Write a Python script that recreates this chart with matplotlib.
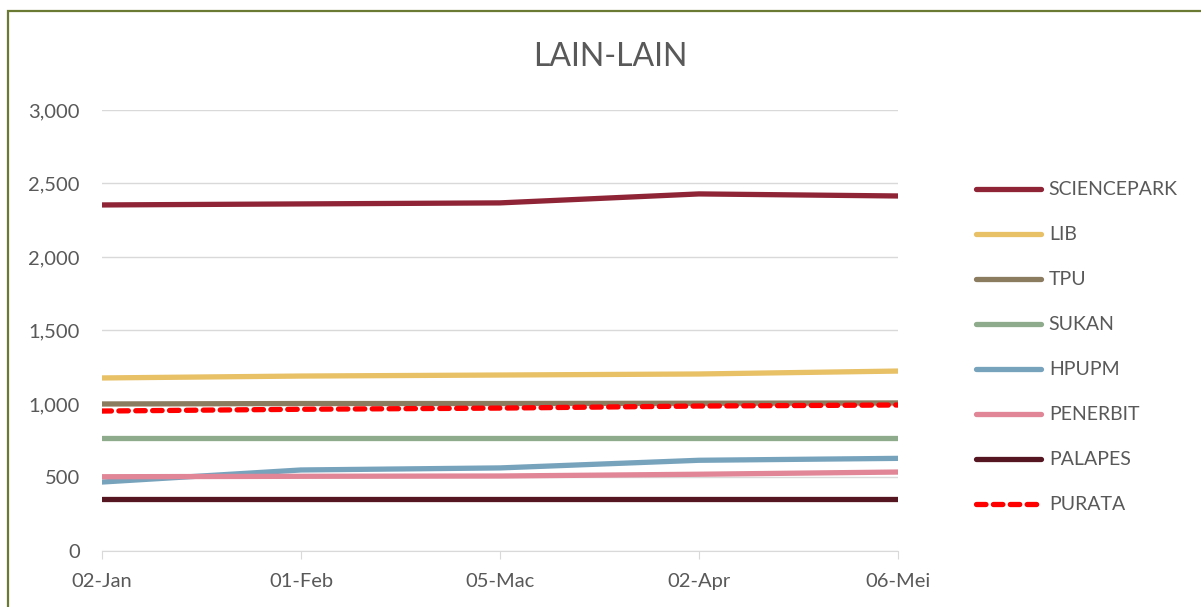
import matplotlib.pyplot as plt
from matplotlib.patches import Rectangle

plt.rcParams['font.family'] = ['Lato', 'DejaVu Sans']

tarikh = ['02-Jan', '01-Feb', '05-Mac', '02-Apr', '06-Mei']
sciencepark = [2354, 2361, 2368, 2429, 2415]
lib = [1177, 1190, 1197, 1204, 1224]
tpu = [1000, 1003, 1003, 1005, 1007]
sukan = [769, 769, 769, 769, 769]
hpupm = [469, 551, 565, 617, 630]
penerbit = [505, 508, 510, 522, 537]
palapes = [354, 354, 354, 354, 354]
purata = [952, 964, 972, 986, 993]

siri = [
    ('SCIENCEPARK', sciencepark, '#8e2436', '-'),
    ('LIB', lib, '#e8c066', '-'),
    ('TPU', tpu, '#8b7b5f', '-'),
    ('SUKAN', sukan, '#8eac8c', '-'),
    ('HPUPM', hpupm, '#77a3bd', '-'),
    ('PENERBIT', penerbit, '#e08696', '-'),
    ('PALAPES', palapes, '#561621', '-'),
    ('PURATA', purata, '#ff0000', '--'),
]

fig = plt.figure(figsize=(12.01, 6.07), dpi=100)
ax = fig.add_axes([0.0849, 0.0923, 0.6628, 0.7265])

x = list(range(len(tarikh)))
for nama, nilai, warna, gaya in siri:
    ax.plot(x, nilai, color=warna, lw=3.8, ls=gaya, label=nama,
            solid_capstyle='round', dash_capstyle='round',
            dashes=(1.8, 1.4) if gaya == '--' else (None, None))

ax.set_xlim(0, 4)
ax.set_ylim(0, 3000)
ax.set_yticks(range(0, 3001, 500))
ax.set_yticklabels(['0', '500', '1,000', '1,500', '2,000', '2,500', '3,000'])
ax.set_xticks(x)
ax.set_xticklabels(tarikh)
ax.grid(axis='y', color='#d9d9d9', lw=1)
ax.set_axisbelow(True)
for s in ['top', 'right', 'left']:
    ax.spines[s].set_visible(False)
ax.spines['bottom'].set_color('#d9d9d9')
ax.tick_params(axis='y', length=0, pad=16, labelsize=14.5, labelcolor='#595959')
ax.tick_params(axis='x', length=6, color='#d9d9d9', pad=10, labelsize=14.5, labelcolor='#595959')

fig.text(0.508, 0.906, 'LAIN-LAIN', ha='center', va='center', fontsize=23, color='#595959')

leg = fig.legend(loc='upper left', bbox_to_anchor=(0.798, 0.73), frameon=False,
                 fontsize=14, labelcolor='#595959', handlelength=3.35,
                 labelspacing=1.44, handletextpad=0.4)

fig.patches.append(Rectangle((8 / 1201, -0.1), 1.2, 1.1 - 11 / 607,
                             transform=fig.transFigure, fill=False,
                             edgecolor='#6b7a32', lw=1.6))

fig.savefig('out.png', dpi=100)
